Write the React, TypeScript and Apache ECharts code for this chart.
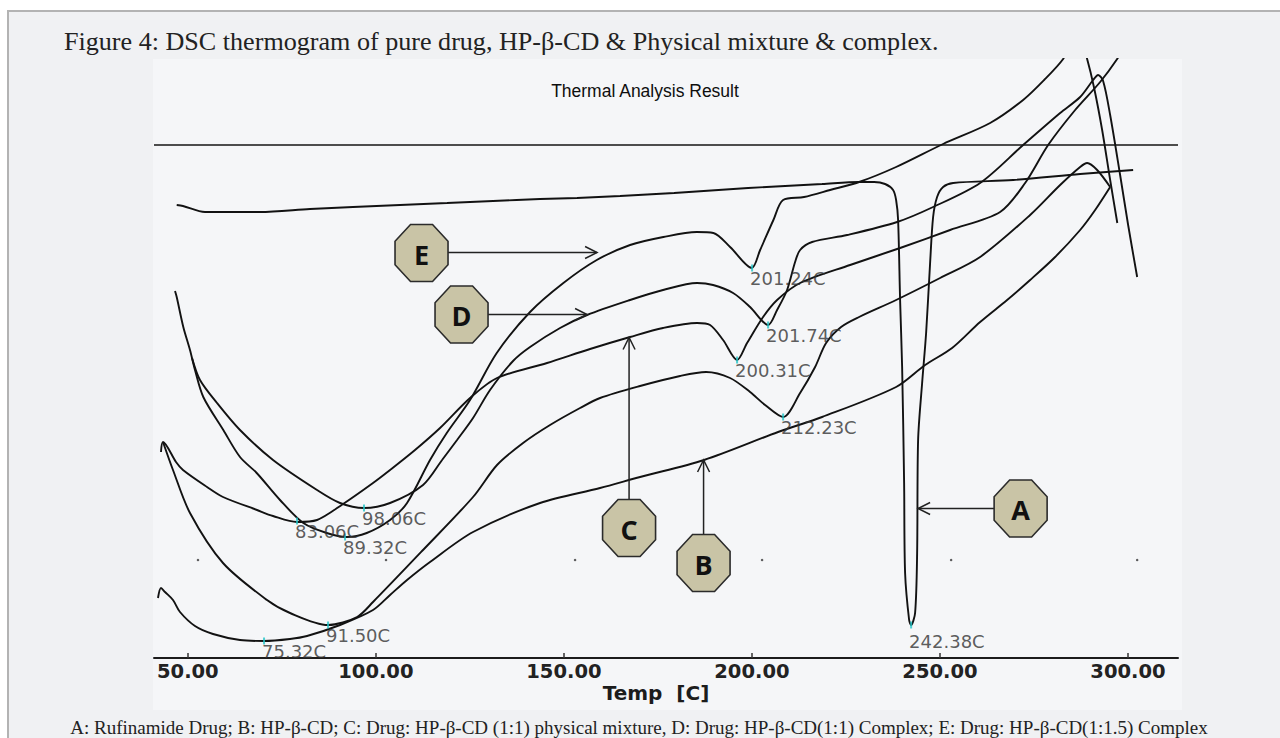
import React, { useEffect, useRef } from "react";
import * as echarts from "echarts";

// ---- data (temperature in °C, heat flow in arbitrary units) ----
const xTicks = [50, 100, 150, 200, 250, 300];

const curveA = [
  [47.04, 4.53], [48.71, 4.52], [54.56, 4.46], [69.19, 4.46], [82.49, 4.49], [93.93, 4.51], [106.43, 4.53],
  [118.93, 4.55], [131.16, 4.57], [143.66, 4.59], [153.5, 4.6], [164.94, 4.62], [179.3, 4.65], [198.98, 4.7],
  [218.66, 4.74], [228.5, 4.76], [232.49, 4.76], [235.41, 4.74], [237.54, 4.68], [238.34, 4.58], [238.87, 4.38],
  [239.4, 3.58], [239.94, 2.91], [240.47, 1.75], [240.73, 0.85], [241.8, 0.38], [242.33, 0.33], [243.39, 0.45],
  [243.93, 1.05], [244.19, 2.18], [245.26, 2.75], [246.32, 3.25], [247.38, 3.95], [248.18, 4.41], [249.24, 4.61],
  [250.84, 4.71], [253.5, 4.75], [269.46, 4.78], [287.28, 4.84], [301.37, 4.88],
];

const curveB = [
  [42.06, 0.6], [42.86, 0.7], [43.93, 0.66], [46.05, 0.58], [47.91, 0.46], [51.9, 0.32], [56.69, 0.24],
  [63.87, 0.18], [70.26, 0.17], [77.17, 0.19], [81.69, 0.22], [90.47, 0.33], [99.24, 0.48], [103.77, 0.63],
  [108.29, 0.78], [114.4, 0.96], [125.84, 1.26], [143.66, 1.55], [159.62, 1.7], [170.26, 1.81], [187.28, 1.98],
  [206.96, 2.26], [218.66, 2.41], [238.34, 2.71], [246.05, 2.93], [253.23, 3.1], [260.68, 3.36], [267.86, 3.58],
  [273.98, 3.78], [280.63, 4.01], [287.28, 4.28], [291.27, 4.48], [295.26, 4.71],
];

const curveC = [
  [42.86, 2.06], [43.39, 2.16], [46.85, 1.96], [48.71, 1.88], [55.1, 1.71], [59.35, 1.61], [68.39, 1.48],
  [72.65, 1.42], [79.03, 1.36], [84.35, 1.38], [91.27, 1.54], [99.24, 1.75], [103.77, 1.88], [110.41, 2.08],
  [117.06, 2.3], [125.04, 2.6], [132.22, 2.8], [145.52, 2.95], [156.96, 3.09], [167.6, 3.21], [176.37, 3.3],
  [185.41, 3.35], [188.87, 3.33], [192.33, 3.18], [196.05, 2.98], [198.71, 3.15], [202.97, 3.41], [206.69, 3.58],
  [212.81, 3.75], [226.11, 3.93], [239.4, 4.1], [252.7, 4.28], [266.0, 4.46], [272.65, 4.75], [278.77, 5.13],
  [285.95, 5.48], [292.6, 5.76], [297.12, 5.99], [299.24, 6.13],
];

const curveD = [
  [51.11, 3.0], [53.23, 2.78], [57.76, 2.55], [63.87, 2.28], [72.65, 1.98], [84.35, 1.68], [90.47, 1.55],
  [96.85, 1.5], [103.77, 1.55], [112.54, 1.73], [117.6, 1.98], [121.59, 2.18], [125.84, 2.4], [130.36, 2.68],
  [136.48, 2.97], [141.0, 3.11], [148.98, 3.3], [156.16, 3.43], [167.6, 3.58], [176.37, 3.68], [185.41, 3.75],
  [189.67, 3.73], [194.99, 3.65], [199.51, 3.51], [204.3, 3.33], [206.69, 3.48], [209.35, 3.68], [211.48, 3.96],
  [212.81, 4.08], [216.0, 4.16], [225.31, 4.23], [238.61, 4.36], [248.18, 4.51], [260.68, 4.75], [272.12, 5.13],
  [281.96, 5.45], [287.28, 5.61], [290.73, 5.78], [292.06, 5.83], [293.39, 5.77], [295.26, 5.43], [297.91, 4.83],
  [300.04, 4.33], [302.44, 3.81],
];

const curveE = [
  [46.59, 3.67], [47.04, 3.61], [48.79, 3.31], [50.57, 3.08], [51.9, 2.88], [54.11, 2.61], [59.43, 2.28],
  [63.87, 2.01], [68.31, 1.85], [74.51, 1.58], [80.71, 1.35], [86.93, 1.25], [92.25, 1.21], [97.57, 1.25],
  [103.77, 1.38], [108.29, 1.55], [114.4, 1.98], [118.85, 2.25], [125.04, 2.58], [132.14, 3.05], [141.0, 3.46],
  [149.86, 3.75], [158.74, 3.98], [167.6, 4.13], [176.45, 4.21], [185.33, 4.26], [189.75, 4.25], [194.19, 4.11],
  [199.96, 3.9], [202.18, 4.08], [205.71, 4.38], [208.29, 4.58], [213.87, 4.61], [220.79, 4.68], [228.5, 4.76],
  [238.34, 4.91], [250.84, 5.14], [263.34, 5.35], [272.12, 5.58], [277.71, 5.78], [282.76, 5.99], [285.41, 6.18],
  [287.81, 6.13], [289.14, 5.99], [291.0, 5.7], [293.13, 5.28], [295.26, 4.78], [297.16, 4.35],
];

const curveF = [
  [43.39, 2.16], [46.05, 1.88], [50.57, 1.45], [59.35, 0.95], [71.05, 0.58], [77.17, 0.45], [87.28, 0.33],
  [94.99, 0.41], [99.24, 0.56], [112.54, 1.08], [125.84, 1.61], [132.22, 1.93], [139.14, 2.15], [146.32, 2.33],
  [154.3, 2.5], [159.62, 2.6], [170.26, 2.72], [180.89, 2.82], [187.81, 2.86], [194.19, 2.8], [199.51, 2.66],
  [203.5, 2.53], [208.29, 2.41], [212.81, 2.65], [216.8, 2.91], [219.72, 3.15], [223.71, 3.31], [228.5, 3.41],
  [238.34, 3.58], [250.04, 3.8], [260.68, 4.01], [273.98, 4.43], [281.96, 4.73], [287.28, 4.91], [289.14, 4.95],
  [291.8, 4.88], [295.26, 4.71],
];

const peakLabels = ["75.32C", "91.50C", "83.06C", "89.32C", "98.06C", "201.24C", "201.74C", "200.31C", "212.23C", "242.38C"];
const peakT = [70.26, 87.28, 79.03, 91.8, 96.85, 200.04, 204.3, 196.05, 208.29, 242.33];
const peakY = [0.17, 0.33, 1.37, 1.21, 1.5, 3.9, 3.33, 2.98, 2.41, 0.33];

const dotT = [52.7, 102.7, 152.97, 202.7, 252.97, 302.44];
const dotY = 0.98;
const refLineY = 5.13;

// callout badges: letter, badge centre and arrow tip (data coords)
const badgeLetters = ["E", "D", "C", "B", "A"];
const badgeCenters = [[112.14, 4.05], [122.78, 3.435], [167.33, 1.3], [187.14, 0.95], [271.45, 1.495]];
const badgeTips = [[158.82, 4.055], [156.16, 3.435], [167.33, 3.205], [187.14, 1.98], [244.19, 1.495]];
const badgeDirs = ["right", "right", "up", "up", "left"];

const seriesNames = [
  "A: Rufinamide Drug",
  "B: HP-β-CD",
  "C: Drug: HP-β-CD (1:1) physical mixture",
  "D: Drug: HP-β-CD(1:1) Complex",
  "E: Drug: HP-β-CD(1:1.5) Complex",
  "Unlabelled trace",
];
const curves = [curveA, curveB, curveC, curveD, curveE, curveF];

export default function App() {
  const ref = useRef<HTMLDivElement>(null);

  useEffect(() => {
    document.body.style.margin = "0";
    if (!ref.current) return;
    const chart = echarts.init(ref.current, null, { renderer: "svg" });

    const lineSeries = curves.map((c, i) => ({
      name: seriesNames[i],
      type: "line",
      data: c,
      showSymbol: false,
      smooth: 0.3,
      clip: true,
      lineStyle: { color: "#121212", width: 1.9 },
      z: 3,
      ...(i === 0
        ? {
            markLine: {
              silent: true,
              symbol: "none",
              label: { show: false },
              lineStyle: { color: "#151515", width: 1.6, type: "solid" },
              data: [{ yAxis: refLineY }],
            },
          }
        : {}),
    }));

    chart.setOption({
      animation: false,
      grid: { left: 154, right: 102, top: 59, bottom: 80 },
      xAxis: {
        type: "value",
        min: 41,
        max: 313.3,
        splitLine: { show: false },
        axisLine: { onZero: false, lineStyle: { color: "#1c1c1c", width: 2 } },
        axisTick: { inside: true, length: 5, customValues: xTicks, lineStyle: { color: "#333", width: 1.5 } },
        axisLabel: {
          customValues: xTicks,
          formatter: (v: number) => v.toFixed(2),
          margin: 3,
          color: "#222",
          fontSize: 19.5,
          fontWeight: "bold",
          fontFamily: "DejaVu Sans",
        },
      },
      yAxis: { type: "value", min: 0, max: 5.99, show: false },
      series: [
        ...lineSeries,
        {
          name: "grid dots",
          type: "scatter",
          symbol: "circle",
          symbolSize: 2.5,
          itemStyle: { color: "#333" },
          data: dotT.map((t) => [t, dotY]),
          silent: true,
          z: 2,
        },
        {
          name: "peaks",
          type: "scatter",
          symbol: "rect",
          symbolSize: [2, 7],
          itemStyle: { color: "#22c5c8" },
          z: 5,
          data: peakLabels.map((n, i) => ({
            name: n,
            value: [peakT[i], peakY[i]],
            label: n === "242.38C" ? { position: [-1, 20] } : undefined,
          })),
          label: {
            show: true,
            formatter: "{b}",
            position: [-1, 14],
            align: "left",
            verticalAlign: "middle",
            color: "#333",
            fontSize: 18,
            fontFamily: "DejaVu Sans",
          },
        },
      ],
    });

    const graphics: any[] = [
      {
        type: "rect",
        shape: { x: 153, y: 59, width: 1029, height: 651 },
        style: { fill: "#f5f6f8" },
        z: -10,
        silent: true,
      },
      {
        type: "text",
        x: 64,
        y: 42,
        scaleX: 1.045,
        style: {
          text: "Figure 4: DSC thermogram of pure drug, HP-β-CD & Physical mixture & complex.",
          fill: "#222",
          font: '25px "Liberation Serif"',
          align: "left",
          verticalAlign: "middle",
        },
        z: 30,
      },
      {
        type: "text",
        x: 645,
        y: 91,
        style: {
          text: "Thermal Analysis Result",
          fill: "#0e0e0e",
          font: '17.5px "Liberation Sans"',
          align: "center",
          verticalAlign: "middle",
        },
        z: 30,
      },
      {
        type: "text",
        x: 656,
        y: 693,
        style: {
          text: "Temp  [C]",
          fill: "#1c1c1c",
          font: 'bold 20px "DejaVu Sans"',
          align: "center",
          verticalAlign: "middle",
        },
        z: 30,
      },
      {
        type: "text",
        x: 639,
        y: 727,
        style: {
          text:
            "A: Rufinamide Drug; B: HP-β-CD; C: Drug: HP-β-CD (1:1) physical mixture, D: Drug: HP-β-CD(1:1) Complex; E: Drug: HP-β-CD(1:1.5) Complex",
          fill: "#222",
          font: '19px "Liberation Serif"',
          align: "center",
          verticalAlign: "middle",
        },
        z: 30,
      },
    ];

    const W = 53;
    const H = 57;
    const cx0 = 15.5;
    const cy0 = 16.7;
    badgeLetters.forEach((letter, i) => {
      const [cx, cy] = chart.convertToPixel({ gridIndex: 0 }, badgeCenters[i]) as number[];
      const [tx, ty] = chart.convertToPixel({ gridIndex: 0 }, badgeTips[i]) as number[];
      const dir = badgeDirs[i];
      let sx = cx;
      let sy = cy;
      let head: number[][] = [];
      if (dir === "right") {
        sx = cx + W / 2;
        sy = ty;
        head = [[tx - 12, ty - 6], [tx, ty], [tx - 12, ty + 6]];
      } else if (dir === "left") {
        sx = cx - W / 2;
        sy = ty;
        head = [[tx + 12, ty - 6], [tx, ty], [tx + 12, ty + 6]];
      } else {
        sx = tx;
        sy = cy - H / 2;
        head = [[tx - 6, ty + 12], [tx, ty], [tx + 6, ty + 12]];
      }
      const pts = [
        [cx - W / 2 + cx0, cy - H / 2],
        [cx + W / 2 - cx0, cy - H / 2],
        [cx + W / 2, cy - H / 2 + cy0],
        [cx + W / 2, cy + H / 2 - cy0],
        [cx + W / 2 - cx0, cy + H / 2],
        [cx - W / 2 + cx0, cy + H / 2],
        [cx - W / 2, cy + H / 2 - cy0],
        [cx - W / 2, cy - H / 2 + cy0],
      ];
      graphics.push(
        { type: "line", shape: { x1: sx, y1: sy, x2: tx, y2: ty }, style: { stroke: "#222", lineWidth: 1.5 }, z: 20 },
        { type: "polyline", shape: { points: head }, style: { stroke: "#222", lineWidth: 1.5, fill: null }, z: 20 },
        { type: "polygon", shape: { points: pts }, style: { fill: "#c9c4a6", stroke: "#2b2b2b", lineWidth: 1.6 }, z: 21 },
        {
          type: "text",
          x: cx,
          y: cy + 1,
          style: { text: letter, fill: "#111", font: 'bold 27px "Open Sans"', align: "center", verticalAlign: "middle" },
          z: 22,
        }
      );
    });

    chart.setOption({ graphic: graphics });

    return () => chart.dispose();
  }, []);

  return (
    <div style={{ position: "relative", width: 1280, height: 738, background: "#ffffff", overflow: "hidden" }}>
      <div
        style={{
          position: "absolute",
          left: 7,
          top: 10,
          width: 1290,
          height: 740,
          borderTop: "2px solid #b3b3b3",
          borderLeft: "2px solid #b3b3b3",
          background: "#f0f1f3",
        }}
      />
      <div ref={ref} style={{ position: "absolute", left: 0, top: 0, width: 1280, height: 738 }} />
    </div>
  );
}
